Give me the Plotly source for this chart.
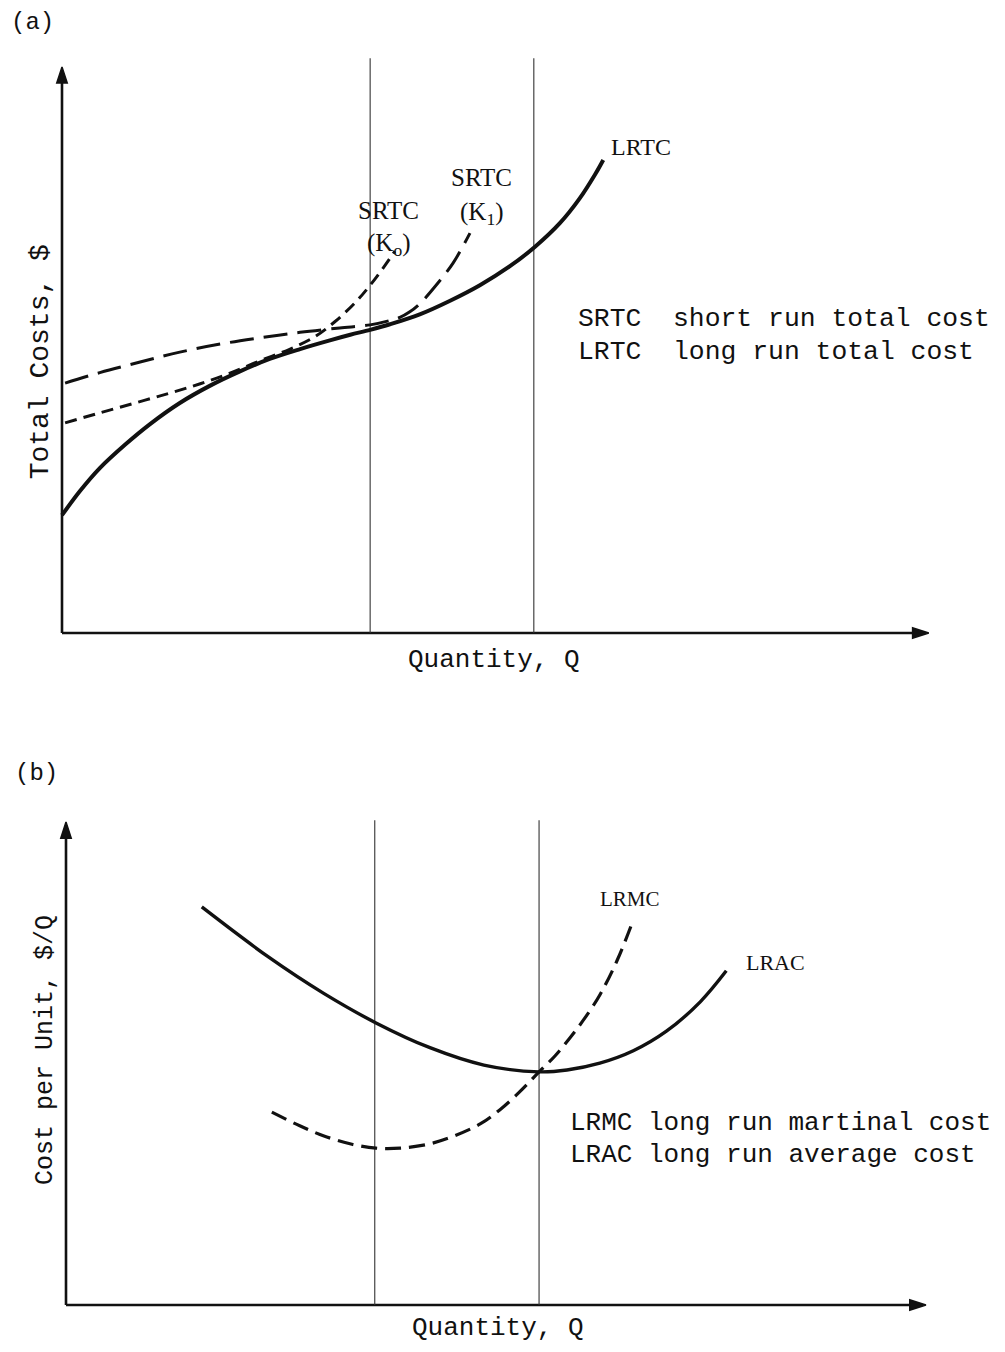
import plotly.graph_objects as go

# ---------------- data (arbitrary cost/quantity units) -------------
# Panel (a): total cost curves
lrtc_q = [0.00, 0.29, 0.61, 1.02, 1.42, 1.90, 2.39, 2.87, 3.35, 3.84, 4.32, 4.65, 4.97, 5.29, 5.77, 6.26, 6.74, 7.23, 7.63, 8.03, 8.35, 8.60, 8.73]
lrtc_c = [1.90, 2.29, 2.66, 3.04, 3.37, 3.71, 3.99, 4.22, 4.42, 4.58, 4.72, 4.81, 4.89, 4.98, 5.14, 5.36, 5.61, 5.92, 6.23, 6.61, 7.01, 7.40, 7.63]

srtc_k1_q = [0.05, 0.61, 1.26, 1.90, 2.55, 3.19, 3.84, 4.48, 4.97, 5.29, 5.45, 5.61, 5.77, 6.05, 6.31, 6.58]
srtc_k1_c = [4.03, 4.20, 4.37, 4.53, 4.66, 4.76, 4.85, 4.92, 4.97, 5.04, 5.09, 5.18, 5.31, 5.63, 5.97, 6.45]

srtc_k0_q = [0.05, 0.61, 1.18, 1.74, 2.23, 2.71, 3.19, 3.68, 4.08, 4.40, 4.73, 4.97, 5.21, 5.37]
srtc_k0_c = [3.39, 3.55, 3.71, 3.87, 4.02, 4.19, 4.39, 4.58, 4.78, 5.02, 5.33, 5.61, 5.93, 6.16]

plant_q_a = [4.97, 7.61]          # the two marked output levels, panel (a)
vline_top_a = 9.27

# Panel (b): per-unit cost curves
lrac_q = [2.19, 3.27, 4.15, 5.00, 5.87, 6.74, 7.63, 8.08, 8.61, 9.15, 9.69, 10.23, 10.65]
lrac_c = [6.42, 5.61, 5.03, 4.55, 4.15, 3.87, 3.76, 3.79, 3.90, 4.10, 4.42, 4.89, 5.39]

lrmc_q = [3.32, 3.77, 4.15, 4.58, 5.00, 5.39, 5.87, 6.27, 6.68, 7.00, 7.32, 7.63, 7.89, 8.13, 8.37, 8.61, 8.89, 9.15]
lrmc_c = [3.11, 2.89, 2.73, 2.60, 2.53, 2.53, 2.60, 2.73, 2.92, 3.15, 3.44, 3.76, 4.02, 4.31, 4.63, 5.00, 5.56, 6.21]

plant_q_b = [4.98, 7.63]
vline_top_b = 7.82

# axis extents (arrow tips)
axis_a = {"x_tip": 13.98, "y_tip": 9.13}
axis_b = {"x_tip": 13.87, "y_tip": 7.79}

# text
panel_labels = ["(a)", "(b)"]
ytitles = ["Total Costs, $", "Cost per Unit, $/Q"]
xtitle = "Quantity, Q"
legend_a = ["SRTC  short run total cost", "LRTC  long run total cost"]
legend_b = ["LRMC long run martinal cost", "LRAC long run average cost"]

# ---------------- figure ----------------
PAGE_W, PAGE_H = 1005, 1352
OFF = 8                      # default page body margin
W, H = PAGE_W - 2 * OFF, PAGE_H - 2 * OFF
PX = 62.0                    # pixels per unit
split = 700 - OFF            # figure row separating the panels
ox_a, oy_a = 62 - OFF, 633 - OFF
ox_b, oy_b = 66 - OFF, 1305 - OFF

MONO = "Liberation Mono, Courier New, monospace"
SERIF = "Liberation Serif, Times New Roman, serif"
INK = "#111111"

fig = go.Figure()

def line(q, c, xa, ya, width, dash="solid", color=INK, shape="spline"):
    fig.add_trace(go.Scatter(
        x=q, y=c, xaxis=xa, yaxis=ya, mode="lines",
        line=dict(color=color, width=width, dash=dash, shape=shape, smoothing=1.0),
        hoverinfo="skip", showlegend=False))

def axis_arrow(xa, ya, q, c):
    fig.add_trace(go.Scatter(
        x=q, y=c, xaxis=xa, yaxis=ya, mode="lines+markers",
        line=dict(color=INK, width=2.6),
        marker=dict(symbol="arrow", size=[0, 17], angleref="previous", color=INK,
                    opacity=1, line=dict(width=1.5, color=INK)),
        hoverinfo="skip", showlegend=False))

# panel (a)
axis_arrow("x", "y", [0, axis_a["x_tip"]], [0, 0])
axis_arrow("x", "y", [0, 0], [0, axis_a["y_tip"]])
for q in plant_q_a:
    line([q, q], [0, vline_top_a], "x", "y", 1.1, color="#333333", shape="linear")
line(srtc_k1_q, srtc_k1_c, "x", "y", 3.0, dash="24px,10px")
line(srtc_k0_q, srtc_k0_c, "x", "y", 3.0, dash="12px,7px")
line(lrtc_q, lrtc_c, "x", "y", 4.0)

# panel (b)
axis_arrow("x2", "y2", [0, axis_b["x_tip"]], [0, 0])
axis_arrow("x2", "y2", [0, 0], [0, axis_b["y_tip"]])
for q in plant_q_b:
    line([q, q], [0, vline_top_b], "x2", "y2", 1.1, color="#333333", shape="linear")
line(lrmc_q, lrmc_c, "x2", "y2", 3.2, dash="16px,8px")
line(lrac_q, lrac_c, "x2", "y2", 3.4)

ann = []

def text(xr, yr, x, y, t, font, size, xanchor="center", angle=0):
    ann.append(dict(xref=xr, yref=yr, x=x, y=y, text=t, showarrow=False,
                    xanchor=xanchor, yanchor="middle", textangle=angle,
                    font=dict(family=font, size=size, color=INK)))

# panel (a) text
text("x", "y", -0.86, 9.85, panel_labels[0], MONO, 24, xanchor="left")
text("x", "y", -0.35, 4.37, ytitles[0], MONO, 28, angle=-90)
text("x", "y", 6.97, -0.44, xtitle, MONO, 26)
text("x", "y", 9.34, 7.84, "LRTC", SERIF, 24)
text("x", "y", 6.77, 7.34, "SRTC", SERIF, 25)
text("x", "y", 6.76, 6.77, "(K<sub>1</sub>)", SERIF, 25)
text("x", "y", 5.26, 6.82, "SRTC", SERIF, 25)
text("x", "y", 5.26, 6.26, "(K<sub>o</sub>)", SERIF, 25)
text("x", "y", 8.29, 5.06, legend_a[0], MONO, 26.4, xanchor="left")
text("x", "y", 8.29, 4.53, legend_a[1], MONO, 26.4, xanchor="left")

# panel (b) text
text("x2", "y2", -0.86, 8.58, panel_labels[1], MONO, 24, xanchor="left")
text("x2", "y2", -0.34, 4.11, ytitles[1], MONO, 25, angle=-90)
text("x2", "y2", 6.97, -0.37, xtitle, MONO, 26)
text("x2", "y2", 9.10, 6.55, "LRMC", SERIF, 21)
text("x2", "y2", 11.44, 5.52, "LRAC", SERIF, 22)
text("x2", "y2", 8.10, 2.94, legend_b[0], MONO, 26, xanchor="left")
text("x2", "y2", 8.10, 2.42, legend_b[1], MONO, 26, xanchor="left")

dom_split = 1 - split / H
hidden = dict(visible=False, showgrid=False, zeroline=False)
fig.update_layout(
    width=W, height=H,
    margin=dict(l=0, r=0, t=0, b=0),
    paper_bgcolor="white", plot_bgcolor="rgba(0,0,0,0)",
    showlegend=False,
    xaxis=dict(domain=[0, 1], range=[-ox_a / PX, (W - ox_a) / PX], anchor="y", **hidden),
    yaxis=dict(domain=[dom_split, 1], range=[(oy_a - split) / PX, oy_a / PX], anchor="x", **hidden),
    xaxis2=dict(domain=[0, 1], range=[-ox_b / PX, (W - ox_b) / PX], anchor="y2", **hidden),
    yaxis2=dict(domain=[0, dom_split], range=[(oy_b - H) / PX, (oy_b - split) / PX], anchor="x2", **hidden),
    annotations=ann,
)

fig.write_html("out.html")
